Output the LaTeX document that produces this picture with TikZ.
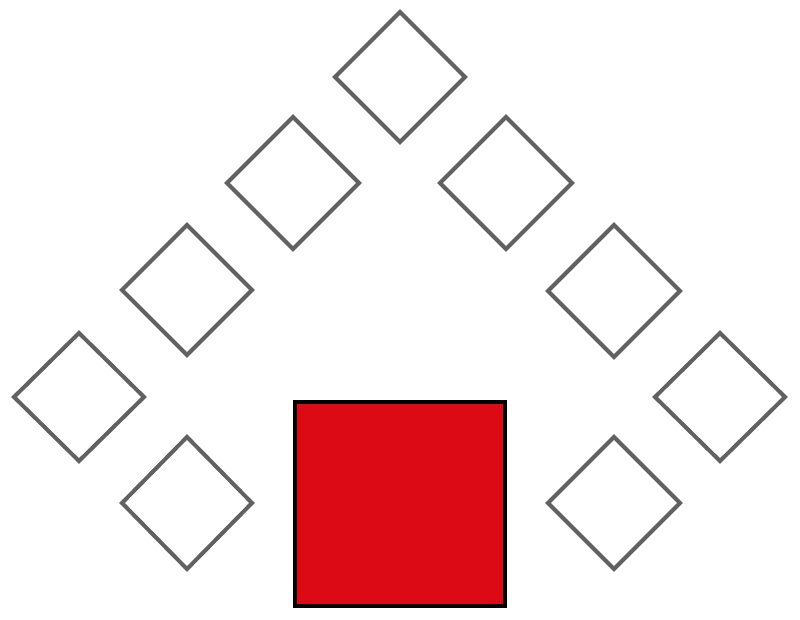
\documentclass[tikz,border=0pt]{standalone}
\usepackage{xcolor}
\usepackage{tikz}
\definecolor{squarered}{RGB}{220,10,21}

\begin{document}
\begin{tikzpicture}[x=1pt,y=-1pt]
	\tikzstyle{every path}+=[line join=miter]
	\useasboundingbox (0,0) rectangle (800,620);
	% roof of diamonds
	\draw [black!62, line width=4] (400,12) -- ++(65,65) -- ++(-65,65) -- ++(-65,-65) -- cycle;
	\draw [black!62, line width=4] (293,117) -- ++(66,66) -- ++(-66,66) -- ++(-66,-66) -- cycle;
	\draw [black!62, line width=4] (506,117) -- ++(66,66) -- ++(-66,66) -- ++(-66,-66) -- cycle;
	\draw [black!62, line width=4] (187,225) -- ++(65,65) -- ++(-65,65) -- ++(-65,-65) -- cycle;
	\draw [black!62, line width=4] (614,225) -- ++(66,66) -- ++(-66,66) -- ++(-66,-66) -- cycle;
	\draw [black!62, line width=4] (79,333) -- ++(65,64) -- ++(-65,64) -- ++(-65,-64) -- cycle;
	\draw [black!62, line width=4] (720,333) -- ++(65,64) -- ++(-65,64) -- ++(-65,-64) -- cycle;
	% lower pair
	\draw [black!62, line width=4] (187,437) -- ++(65,66) -- ++(-65,66) -- ++(-65,-66) -- cycle;
	\draw [black!62, line width=4] (614,437) -- ++(66,66) -- ++(-66,66) -- ++(-66,-66) -- cycle;
	% red block
	\draw [black, line width=4, fill=squarered] (295,402) rectangle (505,606);
\end{tikzpicture}
\end{document}
